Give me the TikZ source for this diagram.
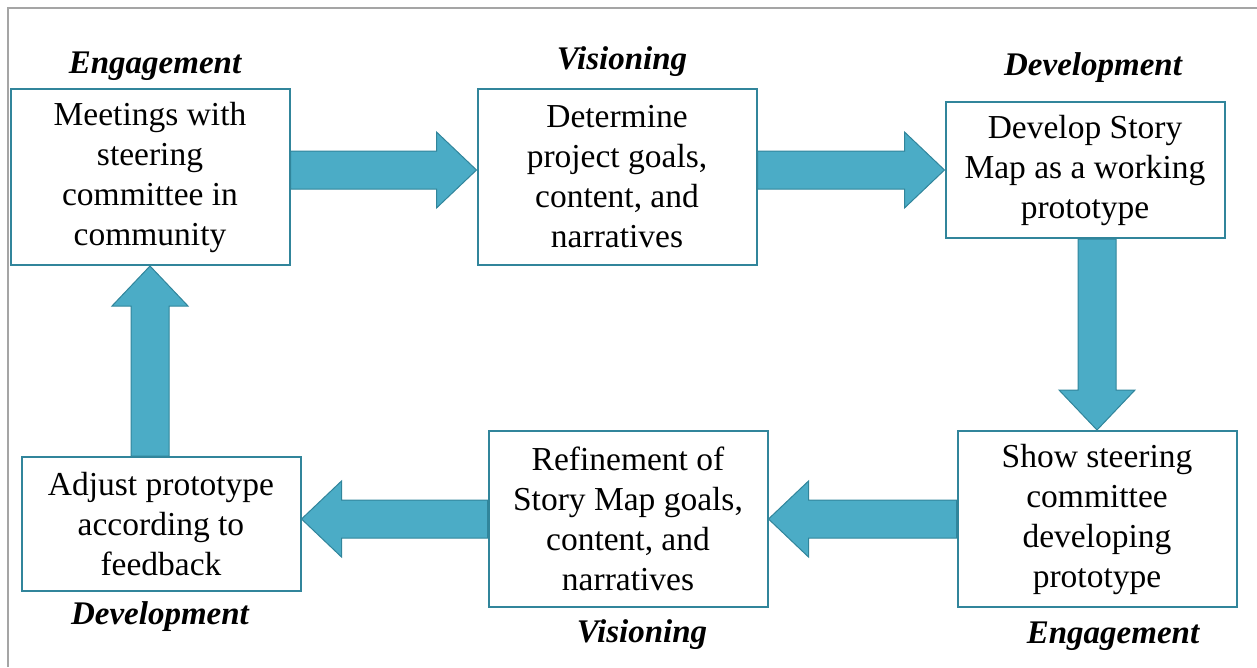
\documentclass[tikz,border=0pt]{standalone}
\usepackage{fontspec}
\setmainfont{Liberation Serif}
\usepackage{xcolor}
\usetikzlibrary{calc}

\definecolor{boxline}{RGB}{49,133,155}
\definecolor{arrowfill}{RGB}{75,172,198}
\definecolor{framegray}{RGB}{165,165,165}

% block arrow from #1 to the tip at #2
\newcommand{\fatarrow}[2]{%
    \coordinate (fa) at (#1);
    \coordinate (fb) at (#2);
    \coordinate (fh) at ($(fb)!40pt!(fa)$);
    \draw[fat] ($(fa)!19pt!90:(fb)$) -- ($(fh)!19pt!90:(fb)$) -- ($(fh)!38pt!90:(fb)$)
        -- (fb) -- ($(fh)!38pt!-90:(fb)$) -- ($(fh)!19pt!-90:(fb)$) -- ($(fa)!19pt!-90:(fb)$) -- cycle;
}

\begin{document}
\begin{tikzpicture}[x=1pt,y=-1pt,
    stage/.style={draw=boxline,line width=2pt,fill=white,align=center,inner sep=0pt,
        minimum width=279pt,font=\fontsize{33.5}{40}\selectfont},
    phase/.style={font=\fontsize{33}{36}\selectfont\bfseries\itshape},
    fat/.style={fill=arrowfill,draw=boxline,line width=1pt}]
    \useasboundingbox (0,0) rectangle (1257,667);
    \draw[framegray,line width=2.5pt] (8,667) -- (8,8) -- (1257,8);

    \node[stage,minimum height=176pt] (b1) at (150,177) {Meetings with\\steering\\committee in\\community};
    \node[stage,minimum height=176pt] (b2) at (617,177) {Determine\\project goals,\\content, and\\narratives};
    \node[stage,minimum height=136pt] (b3) at (1085,170) {Develop Story\\Map as a working\\prototype};
    \node[stage,minimum height=176pt] (b4) at (1097,519) {Show steering\\committee\\developing\\prototype};
    \node[stage,minimum height=176pt] (b5) at (628,519) {Refinement of\\Story Map goals,\\content, and\\narratives};
    \node[stage,minimum height=134pt] (b6) at (161,524) {Adjust prototype\\according to\\feedback};

    \node[phase] (p1) at (155,66) {Engagement};
    \node[phase] (p2) at (622,62) {Visioning};
    \node[phase] (p3) at (1093,68) {Development};
    \node[phase] (p4) at (1113,636) {Engagement};
    \node[phase] (p5) at (642,635) {Visioning};
    \node[phase] (p6) at (160,617) {Development};

    \fatarrow{b1.east |- b3.west}{b2.west |- b3.west}
    \fatarrow{b2.east |- b3.west}{b3.west}
    \fatarrow{b3.south -| b4.north}{b4.north}
    \fatarrow{b4.west}{b5.east}
    \fatarrow{b5.west}{b6.east |- b5.west}
    \fatarrow{b6.north -| b1.south}{b1.south}
\end{tikzpicture}
\end{document}
